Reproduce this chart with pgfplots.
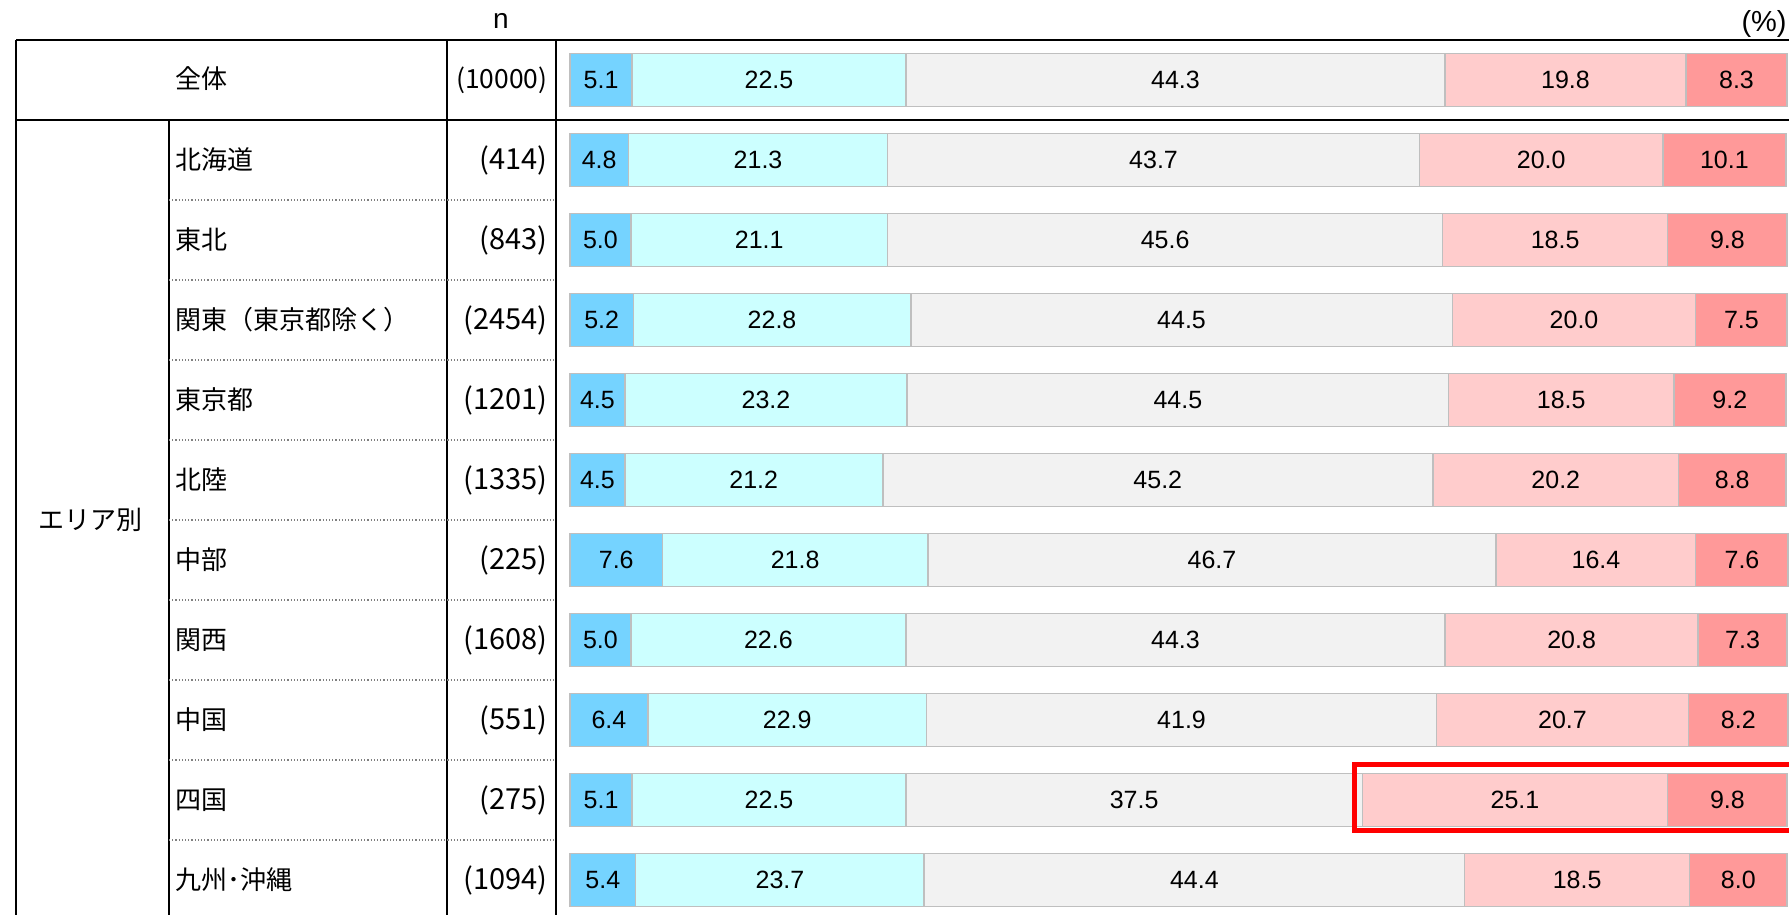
\documentclass[border=0pt]{standalone}
\usepackage{pgfplots}
\pgfplotsset{compat=1.18}
\usepackage{pgfplotstable}
\usepackage{fontspec}
\setmainfont{Liberation Sans}
\newfontfamily\jp{Noto Sans CJK JP}
\definecolor{cA}{RGB}{117,211,255}
\definecolor{cB}{RGB}{204,255,255}
\definecolor{cC}{RGB}{242,242,242}
\definecolor{cD}{RGB}{255,204,204}
\definecolor{cE}{RGB}{255,153,153}
\definecolor{bord}{RGB}{191,191,191}
\newcommand\lab[3][14.5]{\makebox[186pt][s]{\jp\fontsize{13}{13}\selectfont #2\hfill\fontsize{#1}{#1}\selectfont #3}}
\pgfplotstableread{
a b c d e
5.1 22.5 44.3 19.8 8.3
4.8 21.3 43.7 20.0 10.1
5.0 21.1 45.6 18.5 9.8
5.2 22.8 44.5 20.0 7.5
4.5 23.2 44.5 18.5 9.2
4.5 21.2 45.2 20.2 8.8
7.6 21.8 46.7 16.4 7.6
5.0 22.6 44.3 20.8 7.3
6.4 22.9 41.9 20.7 8.2
5.1 22.5 37.5 25.1 9.8
5.4 23.7 44.4 18.5 8.0
}\data
\pgfplotsset{
  seg/.style={fill=#1, draw=bord, line width=0.75pt},
  lbl/.style={draw=none, mark=none,
    nodes near coords={\pgfmathprintnumber[fixed,fixed zerofill,precision=1,assume math mode=true]{\pgfplotspointmeta}},
    point meta=explicit},
  geom/.style={at={(285pt,-20pt)}, anchor=north west,
    scale only axis, width=608.5pt, height=440pt,
    xmin=0, xmax=100, ymin=-0.5, ymax=10.5, y dir=reverse,
    axis line style={draw=none}, tick style={draw=none}, clip=false},
}
\begin{document}
\begin{tikzpicture}
\useasboundingbox (0,0) rectangle (894.5pt,-457.5pt);
\clip (0,0) rectangle (894.5pt,-457.5pt);
\begin{axis}[geom,
  xbar stacked, bar width=26.5pt,
  xtick=\empty, ytick={0,...,10},
  yticklabels={
    {\lab[13.2]{全体}{(10000)}},
    {\lab{北海道}{(414)}},
    {\lab{東北}{(843)}},
    {\lab{関東（東京都除く）}{(2454)}},
    {\lab{東京都}{(1201)}},
    {\lab{北陸}{(1335)}},
    {\lab{中部}{(225)}},
    {\lab{関西}{(1608)}},
    {\lab{中国}{(551)}},
    {\lab{四国}{(275)}},
    {\lab{九州･沖縄}{(1094)}}},
  yticklabel style={anchor=west, inner sep=0pt, xshift=-197.5pt},
]
\addplot[seg=cA] table[x=a, y expr=\coordindex] {\data};
\addplot[seg=cB] table[x=b, y expr=\coordindex] {\data};
\addplot[seg=cC] table[x=c, y expr=\coordindex] {\data};
\addplot[seg=cD] table[x=d, y expr=\coordindex] {\data};
\addplot[seg=cE] table[x=e, y expr=\coordindex] {\data};
\end{axis}
\begin{axis}[geom, xtick=\empty, ytick=\empty,
  every node near coord/.style={anchor=center, inner sep=0pt, text=black, font=\fontsize{12.5}{12.5}\selectfont}]
\addplot[lbl] table[x expr=\thisrow{a}/2, y expr=\coordindex, meta=a] {\data};
\addplot[lbl] table[x expr=\thisrow{a}+\thisrow{b}/2, y expr=\coordindex, meta=b] {\data};
\addplot[lbl] table[x expr=\thisrow{a}+\thisrow{b}+\thisrow{c}/2, y expr=\coordindex, meta=c] {\data};
\addplot[lbl] table[x expr=\thisrow{a}+\thisrow{b}+\thisrow{c}+\thisrow{d}/2, y expr=\coordindex, meta=d] {\data};
\addplot[lbl] table[x expr=\thisrow{a}+\thisrow{b}+\thisrow{c}+\thisrow{d}+\thisrow{e}/2, y expr=\coordindex, meta=e] {\data};
\end{axis}
\begin{scope}[x=0.5pt,y=-0.5pt]
  \draw[line width=1.1pt] (16,40) -- (1800,40);
  \draw[line width=1.1pt] (16,120) -- (1800,120);
  \draw[line width=1.1pt] (16,40) -- (16,930);
  \draw[line width=1.1pt] (447,40) -- (447,930);
  \draw[line width=1.1pt] (556,40) -- (556,930);
  \draw[line width=1.1pt] (169,120) -- (169,930);
  \foreach \yy in {200,280,...,840} {
    \draw[gray, densely dotted, line width=0.6pt] (169,\yy) -- (556,\yy);
  }
  \node[font=\fontsize{14}{14}\selectfont] at (501,21) {n};
  \node[anchor=east, inner sep=0pt, font=\fontsize{14.5}{14.5}\selectfont] at (1787,24) {(\%)};
  \node[font=\jp\fontsize{13}{13}\selectfont] at (91,520) {エリア別};
  \draw[red, line width=2.5pt] (1354.5,764.5) rectangle (1800,830.5);
\end{scope}
\end{tikzpicture}
\end{document}
